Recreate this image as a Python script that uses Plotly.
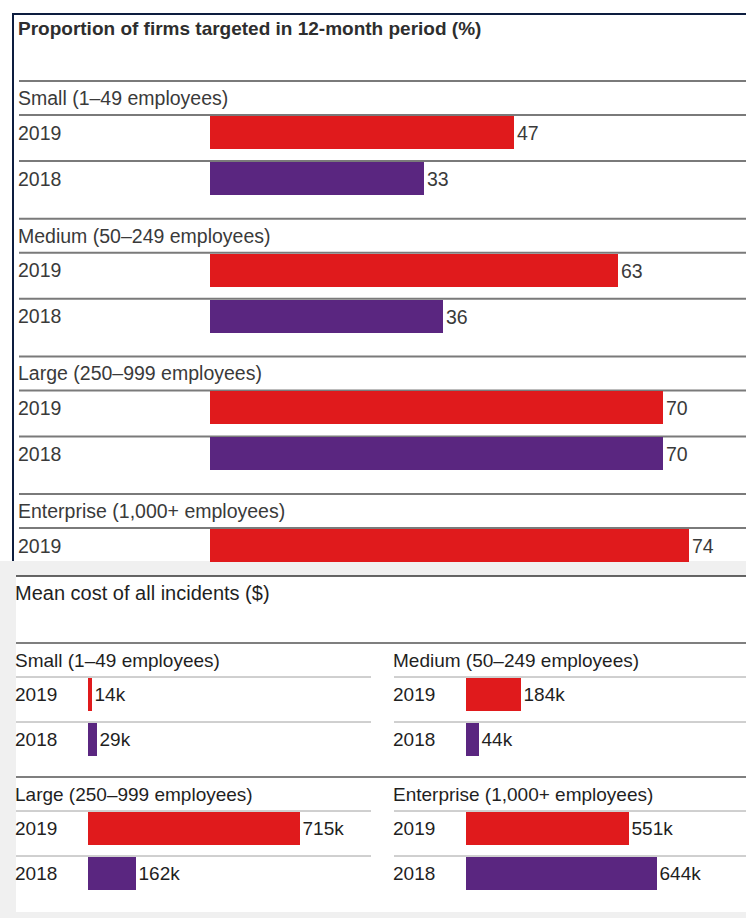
import plotly.graph_objects as go

# ---------------- data ----------------
top_title = "Proportion of firms targeted in 12-month period (%)"
bottom_title = "Mean cost of all incidents ($)"
sizes = ["Small (1–49 employees)", "Medium (50–249 employees)",
         "Large (250–999 employees)", "Enterprise (1,000+ employees)"]
years = ["2019", "2018"]
share_2019 = [47, 63, 70, 74]
share_2018 = [33, 36, 70, None]      # 2018 enterprise row is cut off in the source
cost_2019_k = [14, 184, 715, 551]
cost_2018_k = [29, 44, 162, 644]

# ---------------- style / layout constants ----------------
W, H = 746, 918
RED = "#e01a1c"
PURPLE = "#5a2680"
FONT = "Liberation Sans, Arial, Helvetica, sans-serif"
TOP_TXT = "#3a3a3a"
BOT_TXT = "#1f1f1f"
FS_TOP = 19.5
FS = 19

# top chart geometry (pixels)
T_G0, T_STEP = 81, 137.7
T_HDR, T_ROW = 34, 46
T_CUT = 561
T_ORIGIN, T_SCALE = 210, 6.47
T_LEFT = 19
# bottom chart geometry (pixels)
B_G0, B_STEP = 643, 134
B_HDR, B_ROW = 34, 45
B_LEFT = [16, 394]
B_RIGHT = [371, 746]
B_ORIGIN = [87.5, 465.5]
B_SCALE = 0.2966
BAR_H = 33


def px(v):
    return v / W


def top_center(g, r):
    return T_G0 + g * T_STEP + T_HDR + r * T_ROW + 1 + BAR_H / 2


def bot_center(g, r):
    return B_G0 + (g // 2) * B_STEP + B_HDR + r * B_ROW + 1 + BAR_H / 2


fig = go.Figure()

# ---------------- top chart bars ----------------
for r, (yr, vals, col) in enumerate(zip(years, [share_2019, share_2018], [RED, PURPLE])):
    xs, ys = [], []
    for g, v in enumerate(vals):
        if v is None:
            continue
        xs.append(v)
        ys.append(top_center(g, r))
    fig.add_trace(go.Bar(
        x=xs, y=ys, orientation="h", width=BAR_H, marker=dict(color=col, line=dict(width=0)),
        text=[str(v) for v in xs], textposition="outside",
        textfont=dict(family=FONT, size=FS_TOP, color=TOP_TXT),
        xaxis="x", yaxis="y", showlegend=False, hoverinfo="skip", cliponaxis=False,
    ))

# ---------------- bottom chart bars ----------------
for c, xa in enumerate(["x2", "x3"]):
    for r, (vals, col) in enumerate(zip([cost_2019_k, cost_2018_k], [RED, PURPLE])):
        gs = [g for g in range(4) if g % 2 == c]
        xs = [vals[g] for g in gs]
        ys = [bot_center(g, r) for g in gs]
        fig.add_trace(go.Bar(
            x=xs, y=ys, orientation="h", width=BAR_H, marker=dict(color=col, line=dict(width=0)),
            text=[f"{v}k" for v in xs], textposition="outside",
            textfont=dict(family=FONT, size=FS, color=BOT_TXT),
            xaxis=xa, yaxis="y", showlegend=False, hoverinfo="skip", cliponaxis=False,
        ))

# ---------------- shapes ----------------
shapes = []
# bottom grey background + white panel
shapes.append(dict(type="rect", xref="paper", yref="y", x0=0, x1=1, y0=T_CUT, y1=H,
                   fillcolor="#f0f0f0", line=dict(width=0), layer="below"))
shapes.append(dict(type="rect", xref="paper", yref="y", x0=px(16), x1=1, y0=576, y1=912,
                   fillcolor="white", line=dict(width=0), layer="below"))
# top frame (navy)
shapes.append(dict(type="line", xref="paper", yref="y", x0=px(12), x1=1, y0=14, y1=14,
                   line=dict(color="#0d1d3f", width=2), layer="below"))
shapes.append(dict(type="line", xref="paper", yref="y", x0=px(13), x1=px(13), y0=14, y1=T_CUT,
                   line=dict(color="#0d1d3f", width=2), layer="below"))
# top chart rules
for g in range(4):
    G = T_G0 + g * T_STEP
    for yy in [G, G + T_HDR, G + T_HDR + T_ROW]:
        if yy < T_CUT:
            shapes.append(dict(type="line", xref="paper", yref="y", x0=px(T_LEFT), x1=1,
                               y0=yy, y1=yy, line=dict(color="#7a7a7a", width=2), layer="below"))
# bottom chart rules
shapes.append(dict(type="line", xref="paper", yref="y", x0=px(16), x1=1, y0=576, y1=576,
                   line=dict(color="#333333", width=1.5), layer="below"))
for rr in range(2):
    G = B_G0 + rr * B_STEP
    shapes.append(dict(type="line", xref="paper", yref="y", x0=px(16), x1=1, y0=G, y1=G,
                       line=dict(color="#555555", width=1.5), layer="below"))
    for c in range(2):
        for yy in [G + B_HDR, G + B_HDR + B_ROW]:
            shapes.append(dict(type="line", xref="paper", yref="y", x0=px(B_LEFT[c]),
                               x1=px(B_RIGHT[c]), y0=yy, y1=yy,
                               line=dict(color="#a0a0a0", width=1), layer="below"))

# ---------------- annotations ----------------
ann = []


def label(x, y, text, color, size=FS, bold=False):
    ann.append(dict(xref="paper", yref="y", x=px(x), y=y, text=(f"<b>{text}</b>" if bold else text),
                    xanchor="left", yanchor="middle", showarrow=False,
                    borderpad=0, borderwidth=0,
                    font=dict(family=FONT, size=size, color=color)))


label(T_LEFT - 1, 28, top_title, "#2e2e2e", size=FS, bold=True)
for g in range(4):
    G = T_G0 + g * T_STEP
    label(T_LEFT - 1, G + T_HDR / 2, sizes[g], TOP_TXT, size=FS_TOP)
    for r, yr in enumerate(years):
        yc = top_center(g, r)
        if yc - BAR_H / 2 < T_CUT:
            label(T_LEFT - 1, yc, yr, TOP_TXT, size=FS_TOP)

label(15, 593, bottom_title, BOT_TXT, size=20)
for g in range(4):
    c = g % 2
    G = B_G0 + (g // 2) * B_STEP
    label(B_LEFT[c] - 1, G + B_HDR / 2, sizes[g], BOT_TXT)
    for r, yr in enumerate(years):
        label(B_LEFT[c] - 1, bot_center(g, r), yr, BOT_TXT)

ax_off = dict(visible=False, showgrid=False, zeroline=False, fixedrange=True)
fig.update_layout(
    width=W, height=H, margin=dict(l=0, r=0, t=0, b=0),
    paper_bgcolor="white", plot_bgcolor="rgba(0,0,0,0)",
    bargap=0, showlegend=False,
    xaxis=dict(ax_off, domain=[px(T_ORIGIN), 1], range=[0, (W - T_ORIGIN) / T_SCALE], anchor="y"),
    xaxis2=dict(ax_off, domain=[px(B_ORIGIN[0]), px(B_RIGHT[0])],
                range=[0, (B_RIGHT[0] - B_ORIGIN[0]) / B_SCALE], anchor="y"),
    xaxis3=dict(ax_off, domain=[px(B_ORIGIN[1]), 1],
                range=[0, (W - B_ORIGIN[1]) / B_SCALE], anchor="y"),
    yaxis=dict(ax_off, domain=[0, 1], range=[H, 0], anchor="x"),
    shapes=shapes, annotations=ann,
)

fig.write_html("out.html")
